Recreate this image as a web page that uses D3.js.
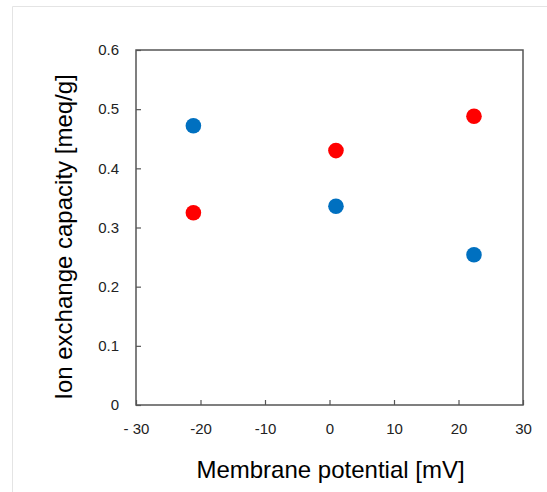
<!DOCTYPE html>
<html>
<head>
<meta charset="utf-8">
<script src="https://cdn.jsdelivr.net/npm/d3@7"></script>
<style>
  html, body { margin: 0; padding: 0; background: #fff; }
  svg { display: block; }
</style>
</head>
<body>
<svg id="chart" width="547" height="492"></svg>
<script>
// Membrane potential (mV) and ion exchange capacity (meq/g) for two sample series
const potentialBlue = [-21.1, 1.0, 22.4];
const capacityBlue  = [0.472, 0.336, 0.254];
const potentialRed  = [-21.1, 1.0, 22.4];
const capacityRed   = [0.325, 0.430, 0.488];

const xTicks = [-30, -20, -10, 0, 10, 20, 30];
const xTickLabels = ["- 30", "-20", "-10", "0", "10", "20", "30"];
const yTicks = [0, 0.1, 0.2, 0.3, 0.4, 0.5, 0.6];
const yTickLabels = ["0", "0.1", "0.2", "0.3", "0.4", "0.5", "0.6"];

const svg = d3.select("#chart");
const W = 547, H = 492;
const m = { left: 136, right: 523, top: 50, bottom: 405 };

// faint outer frame of the figure
svg.append("path")
  .attr("d", `M12.5,${H} V6.5 H${W}`)
  .attr("fill", "none")
  .attr("stroke", "#e4e4e4")
  .attr("stroke-width", 1);

const x = d3.scaleLinear().domain([-30, 30]).range([m.left, m.right]);
const y = d3.scaleLinear().domain([0, 0.6]).range([m.bottom, m.top]);

const tickFont = "'Liberation Sans', Arial, sans-serif";

// bottom axis, ticks pointing inward
const xAxis = d3.axisBottom(x)
  .tickValues(xTicks)
  .tickSize(-5)
  .tickPadding(18)
  .tickFormat((d, i) => xTickLabels[i]);
const gx = svg.append("g").attr("transform", `translate(0,${m.bottom})`).call(xAxis);

// left axis, ticks pointing inward
const yAxis = d3.axisLeft(y)
  .tickValues(yTicks)
  .tickSize(-5)
  .tickPadding(17)
  .tickFormat((d, i) => yTickLabels[i]);
const gy = svg.append("g").attr("transform", `translate(${m.left},0)`).call(yAxis);

[gx, gy].forEach(g => {
  g.select(".domain").remove();
  g.selectAll(".tick line").attr("stroke", "#555").attr("stroke-width", 1.2);
  g.selectAll(".tick text")
    .attr("fill", "#222")
    .style("font-family", tickFont)
    .style("font-size", "15px");
});

// plot frame
svg.append("rect")
  .attr("x", m.left).attr("y", m.top)
  .attr("width", m.right - m.left).attr("height", m.bottom - m.top)
  .attr("fill", "none")
  .attr("stroke", "#555")
  .attr("stroke-width", 1.5);

// points
const blue = potentialBlue.map((p, i) => ({ p, c: capacityBlue[i] }));
const red = potentialRed.map((p, i) => ({ p, c: capacityRed[i] }));

svg.append("g").selectAll("circle").data(blue).join("circle")
  .attr("cx", d => x(d.p)).attr("cy", d => y(d.c)).attr("r", 7.8)
  .attr("fill", "#0070C0");

svg.append("g").selectAll("circle").data(red).join("circle")
  .attr("cx", d => x(d.p)).attr("cy", d => y(d.c)).attr("r", 7.8)
  .attr("fill", "#FF0000");

// axis titles
const titleFont = "'Liberation Sans', Arial, sans-serif";
svg.append("text")
  .attr("x", (m.left + m.right) / 2 + 1).attr("y", 478)
  .attr("text-anchor", "middle")
  .style("font-family", titleFont)
  .style("font-size", "24px")
  .attr("fill", "#000")
  .text("Membrane potential [mV]");

svg.append("text")
  .attr("transform", `translate(72,237) rotate(-90)`)
  .attr("text-anchor", "middle")
  .style("font-family", titleFont)
  .style("font-size", "24px")
  .attr("fill", "#000")
  .text("Ion exchange capacity [meq/g]");
</script>
</body>
</html>
